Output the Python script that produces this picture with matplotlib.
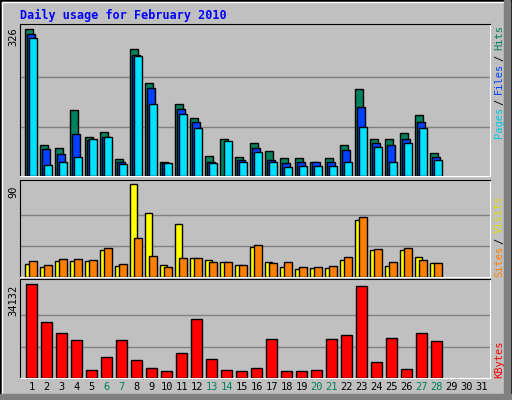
import matplotlib
matplotlib.use("Agg")
import matplotlib.pyplot as plt
from matplotlib.patches import Rectangle

days = list(range(1, 32))
hits = [324,68,61,145,87,98,37,279,205,30,158,127,43,81,41,72,54,39,39,30,39,68,191,81,81,94,134,50]
files = [312,59,48,92,79,87,30,267,193,28,147,118,30,0,35,61,35,28,30,30,30,57,151,72,68,81,118,41]
pages = [303,24,30,42,81,87,26,264,158,28,136,105,29,76,30,52,30,20,21,21,21,30,109,63,30,72,105,35]
visits = [12.3,9.4,15.2,15.2,15.2,25.9,10.4,90,61.8,11.3,51.2,18.1,16.2,14.2,11.3,28.8,14.2,9.4,7.4,8.4,8.4,16.2,55,25.9,10.4,25.9,19.1,13.3]
sites = [15.2,11.3,17.2,17.2,16.2,27.8,12.3,37.6,20.1,9.4,18.1,18.1,14.2,14.2,11.3,30.8,13.3,14.2,9.4,9.4,10.4,19.1,58,26.9,14.2,27.8,16.2,13.3]
kbytes = [34132,20355,16259,13653,2855,7695,13653,6578,3600,2482,9185,21472,6950,2855,2482,3600,14025,2482,2482,2855,14025,15515,33388,5833,14397,3227,16259,13281]
weekends = [6,7,13,14,20,21,27,28]
max_hits, max_visits, max_kb = 326, 90, 34132

BG = "#C0C0C0"
W, H = 512, 400
fig = plt.figure(figsize=(W/100, H/100), dpi=100, facecolor=BG)
mono = "DejaVu Sans Mono"

def ax_at(x0, y0, x1, y1):
    a = fig.add_axes([x0/W, 1-y1/H, (x1-x0)/W, (y1-y0)/H])
    a.set_facecolor(BG)
    a.set_xlim(0.5, 0.5+470/15)
    a.set_xticks([]); a.set_yticks([])
    for s in ["left", "top"]:
        a.spines[s].set_color("black")
    for s in ["right", "bottom"]:
        a.spines[s].set_color("white")
    return a

def bars(a, vals, off, w, color):
    a.bar([d+off for d in days[:len(vals)]], vals, width=w, align="edge",
          color=color, edgecolor="black", linewidth=1, zorder=3)

def grid(a, m):
    for f in (1/3, 2/3):
        a.axhline(m*f, color="#808080", linewidth=1, zorder=1)

fig.patches.append(Rectangle((0, 0), 1, 1, transform=fig.transFigure, fill=False,
                             edgecolor="black", linewidth=2))
fig.patches.append(Rectangle((2/W, 2/H), 1-9/W, 1-4/H, transform=fig.transFigure, fill=False,
                             edgecolor="white", linewidth=1))
fig.patches.append(Rectangle((1-8/W, 0), 6/W, 1, transform=fig.transFigure, color="#808080"))
fig.patches.append(Rectangle((0, 1/H), 1, 5/H, transform=fig.transFigure, color="#808080"))

fig.text(20/W, 1-15/H, "Daily usage for February 2010", color="#0000FF",
         fontfamily=mono, fontweight="bold", fontsize=8.5, va="center")

a1 = ax_at(20, 24, 490, 176)
a1.set_ylim(0, max_hits*152/148)
grid(a1, max_hits)
bars(a1, hits, -0.167, 0.53, "#00805C")
bars(a1, files, -0.033, 0.53, "#0040FF")
bars(a1, pages, 0.1, 0.53, "#00E0FF")

a2 = ax_at(20, 180, 490, 277)
a2.set_ylim(0, max_visits*97/93)
grid(a2, max_visits)
bars(a2, visits, -0.167, 0.5, "#FFFF00")
bars(a2, sites, 0.1, 0.53, "#FF8000")

a3 = ax_at(20, 279, 490, 378)
a3.set_ylim(0, max_kb*99/94)
grid(a3, max_kb)
bars(a3, kbytes, -0.067, 0.67, "#FF0000")

for d in days:
    a3.text(d+0.27, -0.09, str(d), transform=a3.get_xaxis_transform(), ha="center", va="center",
            fontfamily=mono, fontsize=7.5, color="#00805C" if d in weekends else "black")

fs = 7.5
fig.text(13/W, 1-37/H, str(max_hits), rotation=90, fontfamily=mono, fontsize=fs, ha="center", va="center")
fig.text(13/W, 1-192/H, str(max_visits), rotation=90, fontfamily=mono, fontsize=fs, ha="center", va="center")
fig.text(13/W, 1-300/H, str(max_kb), rotation=90, fontfamily=mono, fontsize=fs, ha="center", va="center")

def rlabel(parts, ybottom):
    y = ybottom
    for txt, col in parts:
        s = txt.strip()
        lead = len(txt) - len(txt.lstrip())
        y += lead*5.5
        fig.text(499/W, y/H, s, rotation=90, fontfamily=mono, fontsize=fs,
                 color=col, ha="center", va="bottom")
        y += len(txt.lstrip())*5.5
rlabel([("Pages", "#00C8E0"), (" / ", "black"), ("Files", "#0040FF"), (" / ", "black"), ("Hits", "#00805C")], 400-138)
rlabel([("Sites", "#FF8000"), (" / ", "black"), ("Visits", "#E0E000")], 400-277)
rlabel([("KBytes", "#FF0000")], 400-378)

fig.savefig("out.png", dpi=100, facecolor=BG)
